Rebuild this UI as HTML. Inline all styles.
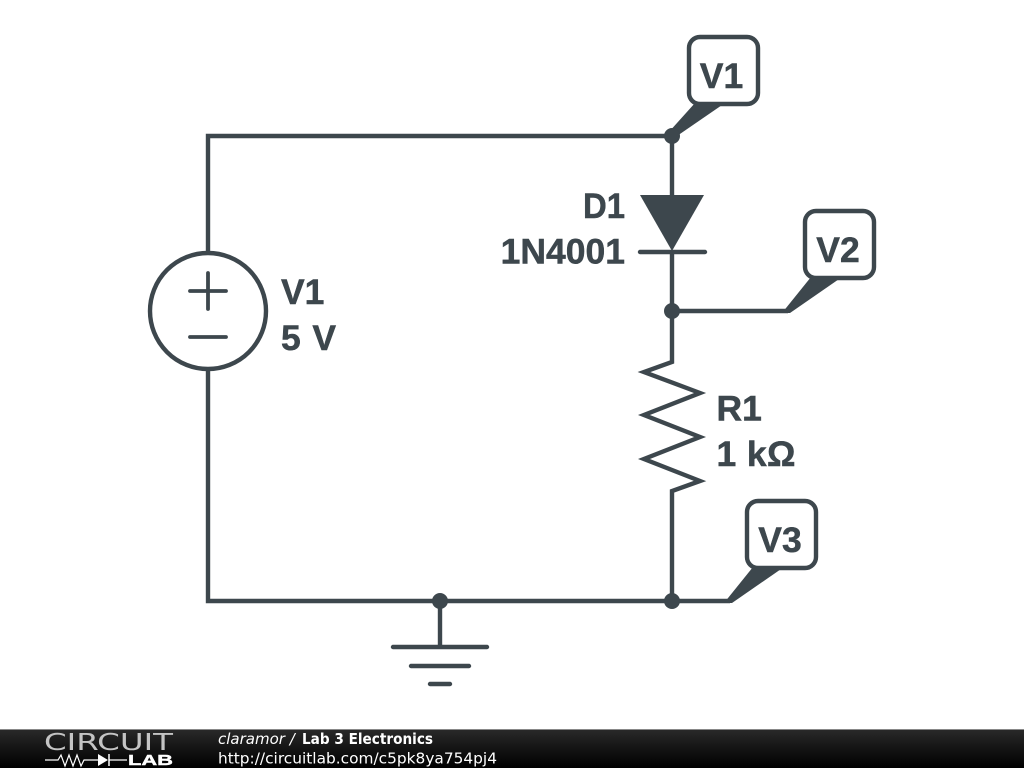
<!DOCTYPE html>
<html>
<head>
<meta charset="utf-8">
<style>
html,body{margin:0;padding:0;background:#fff;width:1024px;height:768px;overflow:hidden}
svg{display:block}
.t{font-family:"Liberation Sans",Arial,sans-serif;font-weight:bold;font-size:35.5px;fill:#3d474d;stroke:#3d474d;stroke-width:.5}
.f{font-family:"DejaVu Sans",sans-serif;font-size:15px;fill:#fff}
</style>
</head>
<body>
<svg width="1024" height="768" viewBox="0 0 1024 768" xmlns="http://www.w3.org/2000/svg">
<defs>
<linearGradient id="g" x1="0" y1="0" x2="0" y2="1">
<stop offset="0" stop-color="#2a2a2a"/>
<stop offset="0.5" stop-color="#141414"/>
<stop offset="1" stop-color="#000"/>
</linearGradient>
</defs>
<rect width="1024" height="768" fill="#fff"/>
<g fill="none" stroke="#3d474d" stroke-width="4.4">
<path d="M208 252V136H672V195M672 251V362L644 372 700 393 644 415 700 437 644 459 700 481 672 491V601M208 370V601H730M672 311H788M440 601V647"/>
<circle cx="208" cy="311" r="58"/>
<rect x="689" y="37" width="69" height="67" rx="11"/>
<rect x="805" y="211" width="69" height="67" rx="11"/>
<rect x="747" y="501" width="69" height="67" rx="11"/>
<g stroke-linecap="round">
<path d="M640 252H705M393 647H487M411 666H469M430 684H450" />
<path d="M190 291H226M208 273V309M190 337H226" stroke-width="3.8"/>
</g>
</g>
<g fill="#3d474d">
<path d="M640 195H704L672 251Z"/>
<path d="M695 103H725L677 136 668 133Z"/>
<path d="M811 277H842L790 313H782Z"/>
<path d="M753 567H784L732 603H724Z"/>
<circle cx="672" cy="136" r="8"/>
<circle cx="672" cy="311" r="8"/>
<circle cx="672" cy="601" r="8"/>
<circle cx="440" cy="601" r="8"/>
</g>
<text class="t" x="721.5" y="88" text-anchor="middle">V1</text>
<text class="t" x="838" y="262" text-anchor="middle">V2</text>
<text class="t" x="780" y="552" text-anchor="middle">V3</text>
<text class="t" x="583" y="218" textLength="42" lengthAdjust="spacingAndGlyphs">D1</text>
<text class="t" x="625" y="263.5" text-anchor="end">1N4001</text>
<text class="t" x="281" y="304">V1</text>
<text class="t" x="281" y="350" textLength="55" lengthAdjust="spacing">5 V</text>
<text class="t" x="716.5" y="420.5">R1</text>
<text class="t" x="716.5" y="466" textLength="79" lengthAdjust="spacing">1 kΩ</text>
<rect x="0" y="729" width="1024" height="39" fill="url(#g)"/>
<rect x="0" y="729" width="1024" height="1" fill="#888"/>
<text x="44" y="750" font-family="'DejaVu Sans',sans-serif" font-size="23" fill="#c4c4c4" textLength="129" lengthAdjust="spacingAndGlyphs">CIRCUIT</text>
<path d="M45 760H58L61 755 65 766 69 755 73 766 77 755 81 766 84 760H99M109 760H127" fill="none" stroke="#fff" stroke-width="1.2"/>
<path d="M98 754V766L108 760Z" fill="#fff"/>
<path d="M109 754V766" stroke="#fff" stroke-width="1.5"/>
<text x="128" y="765" font-family="'Liberation Sans',sans-serif" font-size="14.5" font-weight="bold" fill="#fff" stroke="#fff" stroke-width=".4" textLength="45" lengthAdjust="spacingAndGlyphs">LAB</text>
<text class="f" x="218" y="744" font-style="italic">claramor /</text>
<text class="f" x="302" y="744" font-weight="bold" textLength="131" lengthAdjust="spacingAndGlyphs">Lab 3 Electronics</text>
<text class="f" x="218" y="763.5" textLength="279" lengthAdjust="spacingAndGlyphs">http://circuitlab.com/c5pk8ya754pj4</text>
</svg>
</body>
</html>
